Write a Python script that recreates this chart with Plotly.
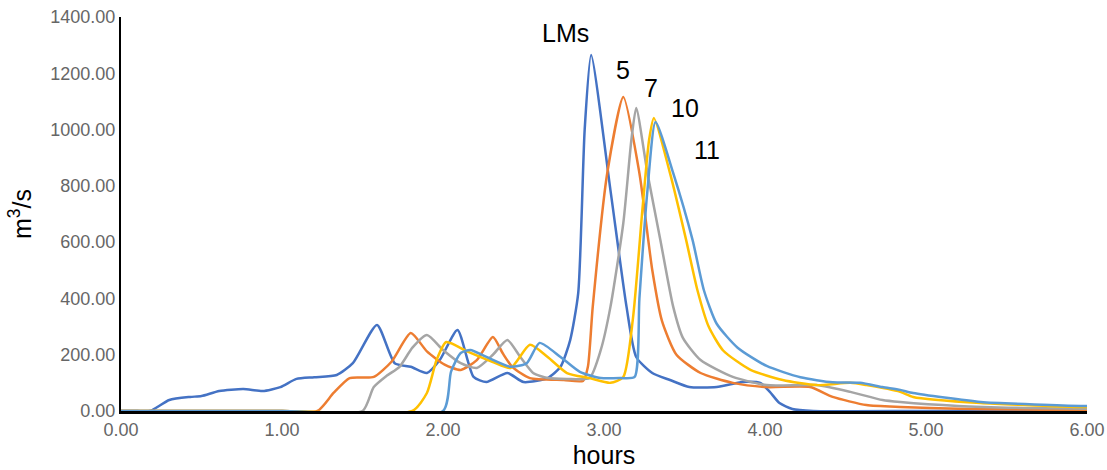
import plotly.graph_objects as go

# ---- data ----
lms_x = [0, 0.1, 0.18, 0.3, 0.43, 0.5, 0.61, 0.76, 0.88, 0.99, 1.09, 1.2, 1.34, 1.44, 1.59, 1.70, 1.80, 1.90,
         1.98, 2.09, 2.19, 2.27, 2.40, 2.50, 2.65, 2.73, 2.79, 2.84, 2.88, 2.92, 3.04, 3.14, 3.20, 3.30, 3.41,
         3.53, 3.70, 3.86, 3.97, 4.03, 4.09, 4.17, 4.3, 5.0, 6.0]
lms_y = [0, 0, 0, 39, 50, 53, 71, 78, 71, 85, 114, 120, 128, 170, 306, 170, 157, 135,
         181, 288, 121, 103, 135, 103, 117, 157, 252, 420, 1000, 1265, 785, 370, 192, 135, 110,
         85, 85, 103, 100, 68, 28, 7, 0, 0, 0]

s5_x = [0, 1.0, 1.22, 1.32, 1.42, 1.57, 1.68, 1.80, 1.90, 2.01, 2.11, 2.21, 2.31, 2.37, 2.43, 2.54, 2.75,
        2.87, 2.90, 2.93, 3.02, 3.12, 3.22, 3.30, 3.36, 3.45, 3.60, 3.80, 4.01, 4.28, 4.42, 4.63, 4.84,
        5.2, 5.6, 6.0]
s5_y = [0, 0, 0, 64, 117, 121, 175, 277, 212, 165, 146, 181, 263, 206, 157, 117, 110,
        107, 157, 370, 845, 1116, 845, 500, 320, 200, 135, 100, 85, 85, 50, 21, 14,
        8, 5, 3]

s7_x = [0, 1.0, 1.50, 1.57, 1.65, 1.73, 1.81, 1.90, 2.00, 2.11, 2.21, 2.31, 2.40, 2.48, 2.56, 2.65, 2.77,
        2.91, 2.98, 3.04, 3.12, 3.17, 3.20, 3.27, 3.35, 3.43, 3.49, 3.60, 3.80, 4.01, 4.32, 4.53, 4.73,
        4.84, 5.2, 5.6, 6.0]
s7_y = [0, 0, 0, 85, 125, 157, 225, 270, 217, 170, 153, 200, 252, 192, 135, 117, 114,
        117, 217, 370, 668, 963, 1077, 845, 608, 370, 260, 181, 121, 92, 92, 68, 39,
        32, 18, 11, 8]

s10_x = [0, 1.0, 1.81, 1.90, 1.96, 2.02, 2.15, 2.31, 2.42, 2.54, 2.65, 2.77, 2.91, 3.04, 3.12, 3.18, 3.24,
         3.28, 3.31, 3.41, 3.51, 3.58, 3.65, 3.74, 3.91, 4.11, 4.32, 4.53, 4.63, 4.84, 4.92, 5.34, 5.96, 6.0]
s10_y = [0, 0, 0, 64, 181, 245, 212, 174, 153, 235, 192, 135, 117, 100, 121, 330, 725,
         963, 1041, 845, 608, 430, 300, 215, 146, 110, 92, 100, 92, 68, 50, 28, 14, 14]

s11_x = [0, 1.0, 2.00, 2.05, 2.11, 2.17, 2.27, 2.42, 2.52, 2.60, 2.73, 2.85, 2.98, 3.10, 3.19, 3.22, 3.27,
         3.32, 3.43, 3.55, 3.62, 3.70, 3.83, 4.01, 4.22, 4.42, 4.59, 4.73, 4.84, 4.92, 5.34, 5.96, 6.0]
s11_y = [0, 0, 0, 140, 206, 217, 192, 157, 170, 242, 192, 139, 117, 117, 121, 400, 785,
         1027, 845, 608, 430, 310, 225, 160, 120, 102, 100, 85, 75, 64, 32, 18, 18]

names = ["LMs", "5", "7", "10", "11"]
colors = ["#4472C4", "#ED7D31", "#A5A5A5", "#FFC000", "#5B9BD5"]
series = [(lms_x, lms_y), (s5_x, s5_y), (s7_x, s7_y), (s10_x, s10_y), (s11_x, s11_y)]

label_x = [2.76, 3.12, 3.29, 3.50, 3.64]
label_y = [1343, 1212, 1148, 1077, 927]

y_ticks = [0, 200, 400, 600, 800, 1000, 1200, 1400]
x_ticks = [0, 1, 2, 3, 4, 5, 6]

fig = go.Figure()
for (xs, ys), n, c in zip(series, names, colors):
    fig.add_trace(go.Scatter(x=xs, y=ys, mode="lines", name=n,
                             line=dict(color=c, width=2.5, shape="spline", smoothing=0.6)))

for n, lx, ly in zip(names, label_x, label_y):
    fig.add_annotation(x=lx, y=ly, text=n, showarrow=False,
                       font=dict(family="Liberation Sans, Arial", size=25, color="black"))

fig.update_layout(
    width=1107, height=470,
    margin=dict(l=121, r=20, t=17, b=59),
    plot_bgcolor="white", paper_bgcolor="white",
    showlegend=False,
    font=dict(family="Liberation Sans, Arial", color="#666666", size=18),
)
fig.update_xaxes(range=[0, 6], tickvals=x_ticks, tickformat=".2f", showgrid=False, zeroline=False,
                 showline=True, linecolor="black", linewidth=3, ticks="", automargin=False,
                 tickfont=dict(size=18, color="#666666"),
                 title=dict(text="hours", font=dict(size=25, color="black"), standoff=8))
fig.update_yaxes(range=[0, 1400], tickvals=y_ticks, tickformat=".2f", showgrid=False, zeroline=False,
                 showline=True, linecolor="black", linewidth=2, ticks="", automargin=False,
                 tickfont=dict(size=18, color="#666666"),
                 title=dict(text="m<sup>3</sup>/s", font=dict(size=25, color="black"), standoff=12))

fig.write_html("out.html", config={"displayModeBar": False},
               post_script="document.body.style.margin='0px';document.body.style.overflow='hidden';")
